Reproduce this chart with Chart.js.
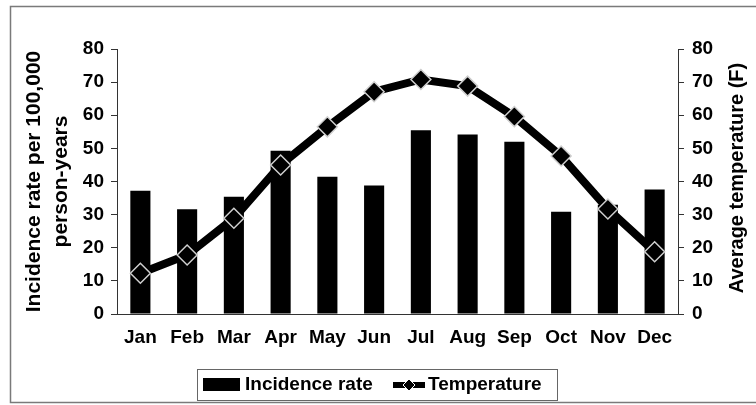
<!DOCTYPE html>
<html>
<head>
<meta charset="utf-8">
<script src="https://cdn.jsdelivr.net/npm/chart.js@4"></script>
<style>
    body { margin: 0; background: #fff; }
    canvas { display: block; }
</style>
</head>
<body>
<canvas id="myChart" width="756" height="405"></canvas>
<script>
// Datos
const months = ["Jan", "Feb", "Mar", "Apr", "May", "Jun", "Jul", "Aug", "Sep", "Oct", "Nov", "Dec"];
const incidenceRate = [37.2, 31.6, 35.4, 49.3, 41.4, 38.8, 55.5, 54.2, 52.0, 30.9, 33.0, 37.6];
const temperature = [12.3, 17.8, 28.9, 45.0, 56.5, 67.1, 70.8, 68.8, 59.6, 47.7, 31.7, 18.8];
const leftTicks = [0, 10, 20, 30, 40, 50, 60, 70, 80];
const rightTicks = [0, 10, 20, 30, 40, 50, 60, 70, 80];

const FONT = "'Liberation Sans', Arial, sans-serif";
Chart.defaults.font.family = FONT;
Chart.defaults.font.weight = "bold";
Chart.defaults.color = "#000";

// marco, leyenda y titulo del eje derecho
const extras = {
    id: "extras",
    beforeDraw(chart) {
        const ctx = chart.ctx;
        ctx.save();
        ctx.fillStyle = "#fff";
        ctx.fillRect(0, 0, chart.width, chart.height);
        ctx.strokeStyle = "#7a7a7a";
        ctx.lineWidth = 1.5;
        ctx.strokeRect(10.5, 6.5, 760, 396);
        ctx.restore();
    },
    afterDraw(chart) {
        const ctx = chart.ctx;
        ctx.save();

        // titulo derecho (de abajo hacia arriba)
        ctx.translate(737, 178);
        ctx.rotate(-Math.PI / 2);
        ctx.font = `bold 20px ${FONT}`;
        ctx.fillStyle = "#000";
        ctx.textAlign = "center";
        ctx.textBaseline = "middle";
        ctx.fillText("Average temperature (F)", 0, 0);
        ctx.setTransform(1, 0, 0, 1, 0, 0);

        // leyenda
        ctx.strokeStyle = "#666";
        ctx.lineWidth = 1;
        ctx.strokeRect(197.5, 369.5, 360, 31);
        ctx.fillStyle = "#000";
        ctx.fillRect(203, 378, 37, 13);
        ctx.font = `bold 19px ${FONT}`;
        ctx.textAlign = "left";
        ctx.textBaseline = "middle";
        ctx.fillText("Incidence rate", 245, 385);

        ctx.fillRect(393, 382, 32, 6);
        ctx.beginPath();
        ctx.moveTo(403, 385);
        ctx.lineTo(409, 379);
        ctx.lineTo(415, 385);
        ctx.lineTo(409, 391);
        ctx.closePath();
        ctx.fill();
        ctx.strokeStyle = "#fff";
        ctx.lineWidth = 1;
        ctx.stroke();
        ctx.fillStyle = "#000";
        ctx.fillText("Temperature", 428, 385);
        ctx.restore();
    }
};

const ctx = document.getElementById("myChart").getContext("2d");

new Chart(ctx, {
    data: {
        labels: months,
        datasets: [
            {
                type: "line",
                label: "Temperature",
                data: temperature,
                yAxisID: "y1",
                order: 0,
                borderColor: "#000",
                borderWidth: 8,
                tension: 0,
                pointStyle: "rectRot",
                pointRadius: 10,
                pointBackgroundColor: "#000",
                pointBorderColor: "#cfcfcf",
                pointBorderWidth: 1.5
            },
            {
                type: "bar",
                label: "Incidence rate",
                data: incidenceRate,
                yAxisID: "y",
                order: 1,
                backgroundColor: "#000",
                borderWidth: 0,
                categoryPercentage: 1,
                barPercentage: 0.43
            }
        ]
    },
    options: {
        responsive: false,
        animation: false,
        layout: { padding: { top: 49, left: 0, right: 0, bottom: 0 } },
        plugins: {
            legend: { display: false },
            tooltip: { enabled: false }
        },
        scales: {
            x: {
                grid: { display: false, drawTicks: false },
                border: { display: true, color: "#333", width: 1 },
                ticks: { font: { size: 19, weight: "bold" }, padding: 12, maxRotation: 0 },
                afterFit: (scale) => { scale.height = 91; }
            },
            y: {
                position: "left",
                min: leftTicks[0],
                max: leftTicks[leftTicks.length - 1],
                ticks: { stepSize: leftTicks[1] - leftTicks[0], font: { size: 19, weight: "bold" }, padding: 7 },
                grid: { drawOnChartArea: false, drawTicks: true, tickLength: 6, color: "#333" },
                border: { display: true, color: "#333", width: 1 },
                title: {
                    display: true,
                    text: ["Incidence rate per 100,000", "person-years"],
                    font: { size: 21, weight: "bold", lineHeight: 1.29 },
                    padding: { top: 21, bottom: 0 }
                },
                afterFit: (scale) => { scale.width = 117; }
            },
            y1: {
                position: "right",
                min: rightTicks[0],
                max: rightTicks[rightTicks.length - 1],
                ticks: { stepSize: rightTicks[1] - rightTicks[0], font: { size: 19, weight: "bold" }, padding: 8 },
                grid: { drawOnChartArea: false, drawTicks: true, tickLength: 6, color: "#333" },
                border: { display: true, color: "#333", width: 1 },
                afterFit: (scale) => { scale.width = 78; }
            }
        }
    },
    plugins: [extras]
});
</script>
</body>
</html>
